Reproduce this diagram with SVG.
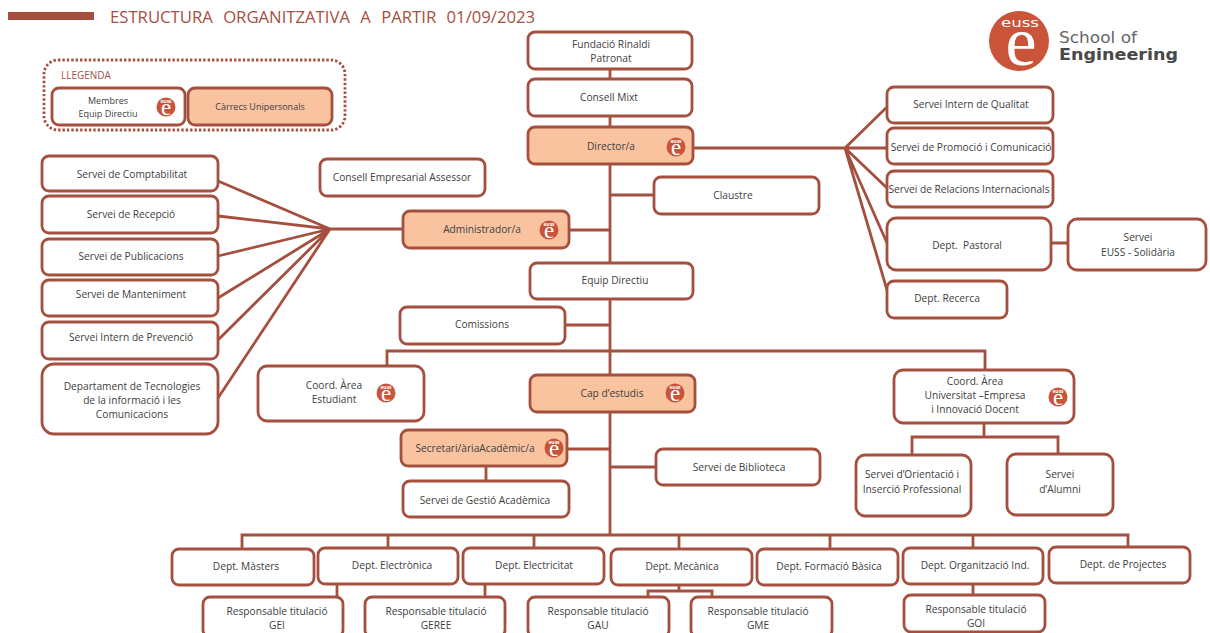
<svg xmlns="http://www.w3.org/2000/svg" width="1210" height="633" viewBox="0 0 1210 633">
<style>
.b{fill:#fff;stroke:#a5503f;stroke-width:2.8}
.p{fill:#f9c3a0;stroke:#a5503f;stroke-width:2.8}
text{font-family:"Open Sans","Liberation Sans",sans-serif;font-size:10.2px;fill:#404040;text-anchor:middle;white-space:pre}
.c{fill:none;stroke:#a5503f;stroke-width:2.8}
.lg{fill:#c9543a}
.le{font-family:"Liberation Serif",serif;font-size:23px;fill:#fff}
.ls{font-size:5px;fill:#fff;font-weight:700}
</style>
<defs>
<g id="logo"><circle class="lg" cx="0" cy="0" r="9.5"/><text class="ls" x="0" y="-4.5">euss</text><text class="le" x="0" y="8">e</text></g>
</defs>
<rect x="8" y="12" width="86" height="8" fill="#a5503f"/>
<text x="110" y="23" style="font-size:16.7px;fill:#a5503f;text-anchor:start;word-spacing:6px">ESTRUCTURA ORGANITZATIVA A PARTIR 01/09/2023</text>

<g id="connectors" class="c">
<path class="c" d="M610 69V127M610 164V263M610 299V535M693 148H845M845 148L887 107M845 148H887M845 148L887 188M845 148L887 243M845 148L887 290M1051 243H1068"/>
<path class="c" d="M610 195H654M569 230H610M403 229H330M330 229L218 181M330 229L218 216M330 229L218 256M330 229L218 298M330 229L218 340M330 229L218 398"/>
<path class="c" d="M565 325H610M387 366V351H985V370M567 449H610M610 467H656M486 466V481M984 423V437M912 455V437H1058V455"/>
<path class="c" d="M242 549V535H1128V547M388 535V548M534 535V548M679 535V549M830 535V549M973 535V548M337 584V597M485 584V597M679 585V591M648 597V591H712V597M973 584V595"/>
</g>

<g id="legend"><rect x="44" y="60" width="301" height="70" rx="14" fill="none" stroke="#a5503f" stroke-width="2.8" stroke-dasharray="2.4 2"/><text x="61" y="79" style="text-anchor:start;fill:#a5503f;font-size:10px">LLEGENDA</text></g>
<g id="n-membres"><rect class="b" x="52" y="88" width="133" height="37" rx="7"/><text x="108" y="104" style="font-size:9px">Membres</text><text x="108" y="117" style="font-size:9px">Equip Directiu</text><use href="#logo" x="166" y="107"/></g>
<g id="n-carrecs"><rect class="p" x="188" y="88" width="144" height="37" rx="7"/><text x="260" y="110" style="font-size:9px">Càrrecs Unipersonals</text></g>

<g id="n-fundacio"><rect class="b" x="528" y="32" width="164" height="37" rx="7"/><text x="611" y="48">Fundació Rinaldi</text><text x="611" y="62">Patronat</text></g>
<g id="n-consell"><rect class="b" x="528" y="79" width="164" height="37" rx="7"/><text x="609" y="101">Consell Mixt</text></g>
<g id="n-director"><rect class="p" x="528" y="127" width="165" height="37" rx="7"/><text x="611" y="150">Director/a</text><use href="#logo" x="676" y="147"/></g>
<g id="n-claustre"><rect class="b" x="654" y="177" width="165" height="37" rx="7"/><text x="733" y="199">Claustre</text></g>
<g id="n-empresarial"><rect class="b" x="320" y="159" width="165" height="37" rx="7"/><text x="402" y="181">Consell Empresarial Assessor</text></g>
<g id="n-admin"><rect class="p" x="403" y="211" width="166" height="37" rx="7"/><text x="482" y="233">Administrador/a</text><use href="#logo" x="549" y="230"/></g>
<g id="n-equip"><rect class="b" x="530" y="263" width="163" height="36" rx="7"/><text x="615" y="284">Equip Directiu</text></g>
<g id="n-comissions"><rect class="b" x="400" y="307" width="165" height="37" rx="7"/><text x="482" y="328">Comissions</text></g>
<g id="n-cap"><rect class="p" x="530" y="375" width="165" height="37" rx="7"/><text x="612" y="397">Cap d’estudis</text><use href="#logo" x="675" y="393"/></g>
<g id="n-coord1"><rect class="b" x="258" y="366" width="166" height="55" rx="9"/><text x="334" y="389">Coord. Àrea</text><text x="334" y="403">Estudiant</text><use href="#logo" x="386" y="393"/></g>
<g id="n-coord2"><rect class="b" x="894" y="370" width="180" height="53" rx="9"/><text x="975" y="385">Coord. Àrea</text><text x="975" y="399">Universitat –Empresa</text><text x="975" y="413">i Innovació Docent</text><use href="#logo" x="1058" y="397"/></g>
<g id="n-secretari"><rect class="p" x="401" y="430" width="166" height="36" rx="7"/><text x="475" y="452">Secretari/àriaAcadèmic/a</text><use href="#logo" x="554" y="448"/></g>
<g id="n-biblioteca"><rect class="b" x="656" y="449" width="164" height="36" rx="7"/><text x="739" y="471">Servei de Biblioteca</text></g>
<g id="n-gestio"><rect class="b" x="403" y="481" width="166" height="36" rx="7"/><text x="485" y="504">Servei de Gestió Acadèmica</text></g>
<g id="n-orientacio"><rect class="b" x="856" y="455" width="115" height="61" rx="9"/><text x="912" y="478">Servei d’Orientació i</text><text x="912" y="493">Inserció Professional</text></g>
<g id="n-alumni"><rect class="b" x="1007" y="454" width="106" height="61" rx="9"/><text x="1060" y="478">Servei</text><text x="1060" y="493">d’Alumni</text></g>

<g id="n-compt"><rect class="b" x="42" y="156" width="176" height="35" rx="7"/><text x="132" y="178">Servei de Comptabilitat</text></g>
<g id="n-recepcio"><rect class="b" x="42" y="196" width="176" height="37" rx="7"/><text x="131" y="218">Servei de Recepció</text></g>
<g id="n-public"><rect class="b" x="42" y="239" width="176" height="36" rx="7"/><text x="131" y="260">Servei de Publicacions</text></g>
<g id="n-mant"><rect class="b" x="42" y="280" width="176" height="36" rx="7"/><text x="131" y="298">Servei de Manteniment</text></g>
<g id="n-prev"><rect class="b" x="42" y="322" width="176" height="37" rx="7"/><text x="131" y="341">Servei Intern de Prevenció</text></g>
<g id="n-tic"><rect class="b" x="42" y="364" width="176" height="70" rx="12"/><text x="132" y="390">Departament de Tecnologies</text><text x="132" y="404">de la informació i les</text><text x="132" y="418">Comunicacions</text></g>

<g id="n-qual"><rect class="b" x="887" y="87" width="166" height="36" rx="7"/><text x="971" y="108">Servei Intern de Qualitat</text></g>
<g id="n-prom"><rect class="b" x="887" y="128" width="166" height="36" rx="7"/><text x="971" y="151">Servei de Promoció i Comunicació</text></g>
<g id="n-rel"><rect class="b" x="887" y="171" width="166" height="36" rx="7"/><text x="969" y="193">Servei de Relacions Internacionals</text></g>
<g id="n-past"><rect class="b" x="887" y="218" width="164" height="52" rx="9"/><text x="967" y="249">Dept.  Pastoral</text></g>
<g id="n-solid"><rect class="b" x="1068" y="219" width="138" height="51" rx="9"/><text x="1138" y="241">Servei</text><text x="1138" y="256">EUSS - Solidària</text></g>
<g id="n-rec"><rect class="b" x="887" y="281" width="120" height="37" rx="7"/><text x="947" y="302">Dept. Recerca</text></g>

<g id="n-masters"><rect class="b" x="172" y="549" width="142" height="36" rx="7"/><text x="246" y="570">Dept. Màsters</text></g>
<g id="n-electronica"><rect class="b" x="318" y="548" width="140" height="36" rx="7"/><text x="392" y="569">Dept. Electrònica</text></g>
<g id="n-electricitat"><rect class="b" x="463" y="548" width="141" height="36" rx="7"/><text x="534" y="569">Dept. Electricitat</text></g>
<g id="n-mecanica"><rect class="b" x="611" y="549" width="141" height="36" rx="7"/><text x="682" y="570">Dept. Mecànica</text></g>
<g id="n-formacio"><rect class="b" x="757" y="549" width="141" height="36" rx="7"/><text x="829" y="570">Dept. Formació Bàsica</text></g>
<g id="n-org"><rect class="b" x="903" y="548" width="140" height="36" rx="7"/><text x="975" y="569">Dept. Organització Ind.</text></g>
<g id="n-proj"><rect class="b" x="1049" y="547" width="141" height="36" rx="7"/><text x="1123" y="568">Dept. de Projectes</text></g>

<g id="n-gei"><rect class="b" x="203" y="597" width="140" height="40" rx="7"/><text x="277" y="615">Responsable titulació</text><text x="277" y="629">GEI</text></g>
<g id="n-geree"><rect class="b" x="365" y="597" width="140" height="40" rx="7"/><text x="436" y="615">Responsable titulació</text><text x="436" y="629">GEREE</text></g>
<g id="n-gau"><rect class="b" x="528" y="597" width="141" height="40" rx="7"/><text x="598" y="615">Responsable titulació</text><text x="598" y="629">GAU</text></g>
<g id="n-gme"><rect class="b" x="691" y="597" width="141" height="40" rx="7"/><text x="758" y="615">Responsable titulació</text><text x="758" y="629">GME</text></g>
<g id="n-goi"><rect class="b" x="904" y="595" width="141" height="37" rx="7"/><text x="976" y="613">Responsable titulació</text><text x="976" y="627">GOI</text></g>

<g id="logo-main"><circle class="lg" cx="1019" cy="41" r="30"/><text x="1020" y="27" style="font-family:'DejaVu Sans',sans-serif;font-size:13px;fill:#fff" textLength="38" lengthAdjust="spacingAndGlyphs">euss</text><text x="1021" y="65" style="font-family:'Liberation Serif',serif;font-size:70px;fill:#fff">e</text><text x="1059" y="43" style="font-family:'DejaVu Sans',sans-serif;text-anchor:start;font-size:15.5px;fill:#666" textLength="78" lengthAdjust="spacingAndGlyphs">School of</text><text x="1059" y="60" style="font-family:'DejaVu Sans',sans-serif;text-anchor:start;font-size:15.5px;font-weight:700;fill:#484848" textLength="119" lengthAdjust="spacingAndGlyphs">Engineering</text></g>
</svg>
